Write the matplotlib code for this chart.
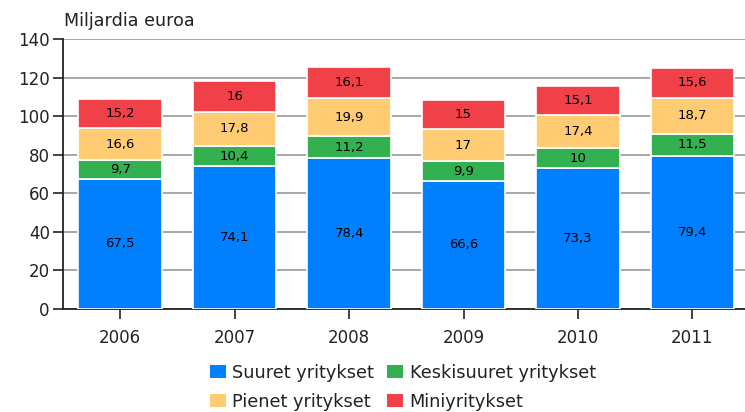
import numpy as np
import matplotlib.pyplot as plt
from matplotlib.patches import Patch

plt.rcParams["font.family"] = ["DejaVu Sans"]

vuodet = ["2006", "2007", "2008", "2009", "2010", "2011"]
suuret = [67.5, 74.1, 78.4, 66.6, 73.3, 79.4]
keskisuuret = [9.7, 10.4, 11.2, 9.9, 10.0, 11.5]
pienet = [16.6, 17.8, 19.9, 17.0, 17.4, 18.7]
mikro = [15.2, 16.0, 16.1, 15.0, 15.1, 15.6]

sarjat = [
    ("Suuret yritykset", suuret, "#0080FF"),
    ("Keskisuuret yritykset", keskisuuret, "#33B050"),
    ("Pienet yritykset", pienet, "#FFCC73"),
    ("Miniyritykset", mikro, "#F04048"),
]


def muotoile(v):
    if float(v).is_integer():
        return f"{int(v)}"
    return f"{v:.1f}".replace(".", ",")


fig = plt.figure(figsize=(7.45, 4.12), dpi=100)
ax = fig.add_axes([0.0846, 0.25, 0.9154, 0.6553])

x = np.arange(len(vuodet))
pohja = np.zeros(len(vuodet))
for nimi, arvot, vari in sarjat:
    arvot = np.array(arvot)
    ax.bar(x, arvot, 0.73, bottom=pohja, color=vari, edgecolor="white",
           linewidth=1.2, zorder=3)
    for xi, b, v in zip(x, pohja, arvot):
        ax.text(xi, b + v / 2, muotoile(v), ha="center", va="center",
                fontsize=9.5, color="black", zorder=4)
    pohja += arvot

ax.set_xlim(-0.5, 5.46)
ax.set_ylim(0, 140)
ax.set_yticks(range(0, 141, 20))
ax.set_xticks(x)
ax.set_xticklabels(vuodet)
ax.tick_params(axis="both", labelsize=12, length=7, width=1.2,
               direction="out", colors="#222222")
ax.tick_params(axis="y", pad=2.5)
ax.tick_params(axis="x", pad=7.5)
ax.grid(axis="y", color="#A0A0A0", linewidth=1.3, zorder=0)
ax.set_axisbelow(True)
for s in ["top", "right"]:
    ax.spines[s].set_visible(False)
for s in ["left", "bottom"]:
    ax.spines[s].set_linewidth(1.3)
    ax.spines[s].set_color("#222222")

fig.text(0.086, 0.95, "Miljardia euroa", fontsize=12.6, ha="left",
         va="center", color="#222222")

kahvat = [Patch(facecolor=sarjat[i][2], label=sarjat[i][0])
          for i in [0, 2, 1, 3]]
fig.legend(handles=kahvat, ncol=2, loc="upper left",
           bbox_to_anchor=(210 / 745, 1 - 364 / 412), frameon=False,
           fontsize=12.8, handlelength=0.9, handleheight=0.75,
           handletextpad=0.35, columnspacing=0.75, labelspacing=0.62,
           borderaxespad=0, borderpad=0, labelcolor="#222222")

fig.savefig("out.png", dpi=100)
